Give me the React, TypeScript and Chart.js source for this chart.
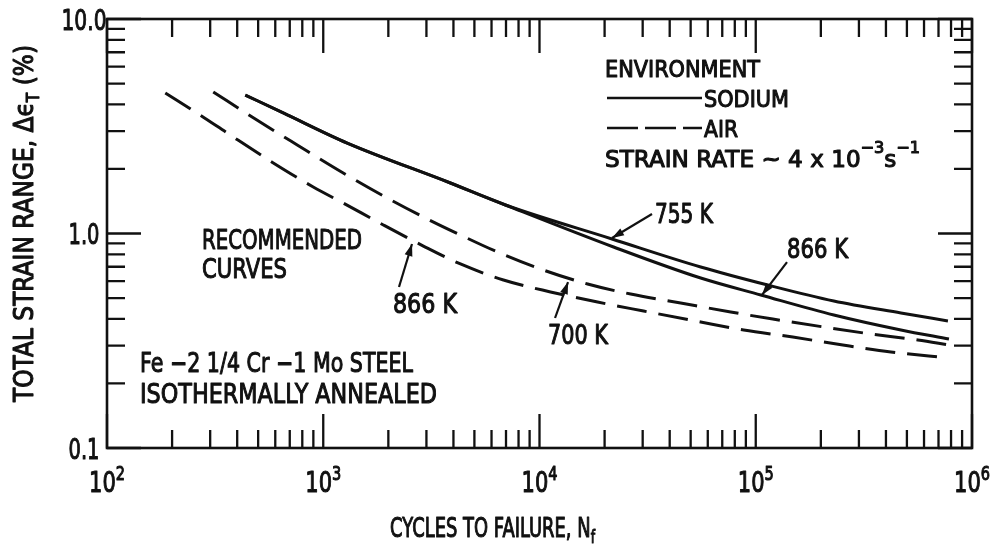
import React, { useEffect, useRef } from 'react';
import { Chart, registerables } from 'chart.js';

Chart.register(...registerables);

// ---------------- data ----------------
// Sodium environment, 755 K (solid)
const sodium755N = [436, 653, 1291, 3873, 6960, 21640, 55650, 113700, 229600, 469200, 774000];
const sodium755E = [4.42, 3.65, 2.64, 1.72, 1.358, 0.943, 0.698, 0.575, 0.4845, 0.426, 0.391];
// Sodium environment, 866 K (solid)
const sodium866N = [436, 653, 1291, 3873, 6960, 22000, 55650, 105500, 229600, 469200, 782400];
const sodium866E = [4.42, 3.65, 2.64, 1.72, 1.358, 0.865, 0.62, 0.517, 0.417, 0.355, 0.322];
// Air environment, 700 K (dashed)
const air700N = [310, 469, 758, 1237, 1936, 3030, 4309, 6390, 10100, 16690, 26390, 44960, 76600, 119900, 206400, 340700, 562300, 782400];
const air700E = [4.57, 3.49, 2.586, 1.914, 1.48, 1.168, 0.984, 0.82, 0.683, 0.5815, 0.522, 0.474, 0.4305, 0.399, 0.3665, 0.34, 0.319, 0.302];
// Air environment, 866 K (dashed)
const air866N = [186, 269, 371, 580, 899, 1237, 1896, 2904, 4309, 6813, 11240, 18560, 30300, 55650, 88000, 148400, 252800, 421700, 774000];
const air866E = [4.52, 3.57, 2.88, 2.15, 1.648, 1.387, 1.096, 0.874, 0.721, 0.607, 0.534, 0.479, 0.435, 0.3867, 0.355, 0.329, 0.302, 0.2803, 0.263];

// axes
const xMin = 1e2;
const xMax = 1e6;
const yMin = 0.1;
const yMax = 10;
const xTickValues = [1e2, 1e3, 1e4, 1e5, 1e6];
const xTickExponents = ['2', '3', '4', '5', '6'];
const yTickValues = [10, 1, 0.1];
const yTickLabels = ['10.0', '1.0', '0.1'];
const minorMultipliers = [2, 3, 4, 5, 6, 7, 8, 9];

// annotation texts, anchored (left, baseline) at data coordinates
const noteTexts = ['RECOMMENDED', 'CURVES', 'Fe \u22122 1/4 Cr \u22121 Mo STEEL', 'ISOTHERMALLY ANNEALED', '866 K', '700 K', '755 K', '866 K'];
const noteN = [275, 275, 142.1, 142.1, 2101, 10950, 34210, 139500];
const noteE = [0.847, 0.62, 0.2261, 0.1621, 0.4261, 0.3053, 1.119, 0.769];
const noteWidths = [160, 85, 273, 297, 64, 60, 58, 61];

// arrows: from (N1,E1) to tip (N2,E2)
const arrowFromN = [2240, 11800, 33130, 139500];
const arrowFromE = [0.563, 0.4037, 1.233, 0.736];
const arrowToN = [2573, 13550, 21640, 106900];
const arrowToE = [0.893, 0.594, 0.953, 0.517];

// legend block
const legendTitle = 'ENVIRONMENT';
const legendLabels = ['SODIUM', 'AIR'];
const legendLineN = [20520, 56410];
const legendLineE = [4.281, 3.103];
const legendLabelN = 57630;
const legendLabelE = [3.888, 2.818];
const legendTitleN = 20090;
const legendTitleE = 5.364;
const strainRateE = 2.042;

const INK = '#111111';
const FONT = '"DejaVu Sans", "Liberation Sans", sans-serif';

type Seg = { t: string; k?: 'sup' | 'sub' };

function segFont(size: number, k?: string) {
  return `${k ? Math.round(size * 0.68) : size}px ${FONT}`;
}

function richWidth(ctx: CanvasRenderingContext2D, segs: Seg[], size: number) {
  let w = 0;
  for (const s of segs) {
    ctx.font = segFont(size, s.k);
    w += ctx.measureText(s.t).width;
  }
  return w;
}

function drawRich(
  ctx: CanvasRenderingContext2D,
  segs: Seg[],
  x: number,
  y: number,
  size: number,
  target: number,
  align: 'left' | 'center',
  supRise = 0.45,
  subDrop = 0.22
) {
  const natural = richWidth(ctx, segs, size);
  const sx = target / natural;
  ctx.save();
  ctx.translate(x, y);
  ctx.scale(sx, 1);
  ctx.textAlign = 'left';
  ctx.textBaseline = 'alphabetic';
  ctx.lineWidth = 1.1;
  ctx.lineJoin = 'round';
  let cx = align === 'center' ? -natural / 2 : 0;
  for (const s of segs) {
    ctx.font = segFont(size, s.k);
    const dy = s.k === 'sup' ? -size * supRise : s.k === 'sub' ? size * subDrop : 0;
    ctx.fillText(s.t, cx, dy);
    ctx.strokeText(s.t, cx, dy);
    cx += ctx.measureText(s.t).width;
  }
  ctx.restore();
}

function drawArrow(ctx: CanvasRenderingContext2D, x1: number, y1: number, x2: number, y2: number) {
  ctx.beginPath();
  ctx.moveTo(x1, y1);
  ctx.lineTo(x2, y2);
  ctx.stroke();
  const ang = Math.atan2(y2 - y1, x2 - x1);
  const L = 12;
  const W = 4;
  const bx = x2 - L * Math.cos(ang);
  const by = y2 - L * Math.sin(ang);
  ctx.beginPath();
  ctx.moveTo(x2, y2);
  ctx.lineTo(bx + W * Math.sin(ang), by - W * Math.cos(ang));
  ctx.lineTo(bx - W * Math.sin(ang), by + W * Math.cos(ang));
  ctx.closePath();
  ctx.fill();
}

const overlayPlugin = {
  id: 'overlay',
  afterDraw(chart: any) {
    const { ctx, chartArea: a } = chart;
    const xs = chart.scales.x;
    const ys = chart.scales.y;
    const px = (v: number) => xs.getPixelForValue(v);
    const py = (v: number) => ys.getPixelForValue(v);
    ctx.save();
    ctx.strokeStyle = INK;
    ctx.fillStyle = INK;
    ctx.lineCap = 'butt';

    // frame
    ctx.lineWidth = 2.6;
    ctx.strokeRect(a.left, a.top, a.right - a.left, a.bottom - a.top);

    // tick marks (inward)
    const majorLen = 34;
    const minorLen = 18;
    ctx.lineWidth = 2.3;
    const xTickList: { v: number; major: boolean }[] = [];
    xTickValues.forEach((v, i) => {
      xTickList.push({ v, major: true });
      if (i < xTickValues.length - 1) minorMultipliers.forEach((m) => xTickList.push({ v: v * m, major: false }));
    });
    for (const t of xTickList) {
      const x = px(t.v);
      const len = t.major ? majorLen : minorLen;
      ctx.beginPath();
      ctx.moveTo(x, a.bottom);
      ctx.lineTo(x, a.bottom - len);
      ctx.moveTo(x, a.top);
      ctx.lineTo(x, a.top + len);
      ctx.stroke();
    }
    const yMajors = [...yTickValues].sort((p, q) => p - q);
    const yTickList: { v: number; major: boolean }[] = [];
    yMajors.forEach((v, i) => {
      yTickList.push({ v, major: true });
      if (i < yMajors.length - 1) minorMultipliers.forEach((m) => yTickList.push({ v: v * m, major: false }));
    });
    for (const t of yTickList) {
      const y = py(t.v);
      const len = t.major ? majorLen : minorLen;
      ctx.beginPath();
      ctx.moveTo(a.left, y);
      ctx.lineTo(a.left + len, y);
      ctx.moveTo(a.right, y);
      ctx.lineTo(a.right - len, y);
      ctx.stroke();
    }

    // tick labels
    xTickValues.forEach((v, i) => {
      drawRich(ctx, [{ t: '10' }, { t: xTickExponents[i], k: 'sup' }], px(v), a.bottom + 44, 29, 36, 'center', 0.43);
    });
    yTickValues.forEach((v, i) => {
      const w = yTickLabels[i].length === 4 ? 45 : 31;
      drawRich(ctx, [{ t: yTickLabels[i] }], a.left - 23, py(v) + 10.5, 29, w, 'center');
    });

    // axis titles
    drawRich(ctx, [{ t: 'CYCLES TO FAILURE, N' }, { t: 'f', k: 'sub' }], 390, 537, 26, 205, 'left');
    ctx.save();
    ctx.translate(33, 402);
    ctx.rotate(-Math.PI / 2);
    drawRich(ctx, [{ t: 'TOTAL STRAIN RANGE, \u0394\u03F5' }, { t: 'T', k: 'sub' }, { t: ' (%)' }], 0, 0, 27, 357, 'left');
    ctx.restore();

    // legend
    drawRich(ctx, [{ t: legendTitle }], px(legendTitleN), py(legendTitleE), 23, 155, 'left');
    ctx.lineWidth = 2.6;
    ctx.beginPath();
    ctx.moveTo(px(legendLineN[0]), py(legendLineE[0]));
    ctx.lineTo(px(legendLineN[1]), py(legendLineE[0]));
    ctx.stroke();
    ctx.save();
    ctx.setLineDash([31, 7]);
    ctx.beginPath();
    ctx.moveTo(px(legendLineN[0]), py(legendLineE[1]));
    ctx.lineTo(px(legendLineN[1]), py(legendLineE[1]));
    ctx.stroke();
    ctx.restore();
    drawRich(ctx, [{ t: legendLabels[0] }], px(legendLabelN), py(legendLabelE[0]), 23, 85, 'left');
    drawRich(ctx, [{ t: legendLabels[1] }], px(legendLabelN), py(legendLabelE[1]), 23, 34, 'left');
    drawRich(
      ctx,
      [{ t: 'STRAIN RATE ~ 4 x 10' }, { t: '\u22123', k: 'sup' }, { t: 's' }, { t: '\u22121', k: 'sup' }],
      px(legendTitleN),
      py(strainRateE),
      23,
      315,
      'left',
      0.62
    );

    // notes
    noteTexts.forEach((t, i) => {
      drawRich(ctx, [{ t }], px(noteN[i]), py(noteE[i]), 27, noteWidths[i], 'left');
    });

    // arrows
    ctx.lineWidth = 2.2;
    arrowFromN.forEach((n, i) => {
      drawArrow(ctx, px(n), py(arrowFromE[i]), px(arrowToN[i]), py(arrowToE[i]));
    });

    ctx.restore();
  },
};

function series(label: string, N: number[], E: number[], dash: number[]) {
  return {
    label,
    data: N.map((n, i) => ({ x: n, y: E[i] })),
    borderColor: INK,
    backgroundColor: INK,
    borderWidth: 3,
    borderDash: dash,
    borderCapStyle: 'butt' as const,
    pointRadius: 0,
    pointHoverRadius: 0,
    tension: 0.4,
    cubicInterpolationMode: 'monotone' as const,
    fill: false,
  };
}

export default function App() {
  const ref = useRef<HTMLCanvasElement | null>(null);

  useEffect(() => {
    if (!ref.current) return;
    const chart = new Chart(ref.current, {
      type: 'line',
      data: {
        datasets: [
          series('Sodium 755 K', sodium755N, sodium755E, []),
          series('Sodium 866 K', sodium866N, sodium866E, []),
          series('Air 700 K', air700N, air700E, [30, 12]),
          series('Air 866 K', air866N, air866E, [30, 12]),
        ],
      },
      options: {
        animation: false,
        responsive: false,
        maintainAspectRatio: false,
        devicePixelRatio: 1,
        layout: { padding: { top: 19, right: 21, left: 0, bottom: 0 } },
        plugins: {
          legend: { display: false },
          tooltip: { enabled: false },
          title: { display: false },
        },
        scales: {
          x: {
            type: 'logarithmic',
            min: xMin,
            max: xMax,
            position: 'bottom',
            grid: { display: false },
            border: { display: false },
            ticks: { display: false },
            afterFit: (s: any) => {
              s.height = 101;
            },
          },
          y: {
            type: 'logarithmic',
            min: yMin,
            max: yMax,
            position: 'left',
            grid: { display: false },
            border: { display: false },
            ticks: { display: false },
            afterFit: (s: any) => {
              s.width = 107;
            },
          },
        },
      },
      plugins: [overlayPlugin],
    } as any);
    return () => chart.destroy();
  }, []);

  return (
    <div style={{ position: 'fixed', left: 0, top: 0, width: 993, height: 549, background: '#fff' }}>
      <canvas ref={ref} width={993} height={549} style={{ display: 'block' }} />
    </div>
  );
}
